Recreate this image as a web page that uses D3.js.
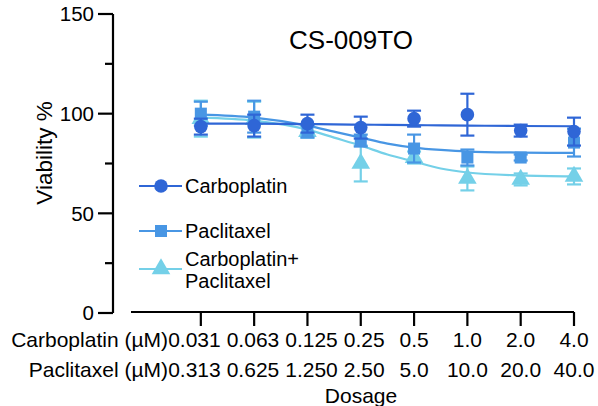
<html>
<script src="https://d3js.org/d3.v7.min.js"></script>
<body style="margin:0">
<svg width=598 height=406></svg>
<script>
// dose categories (two drugs on the same x position)
const carboDose = ["0.031", "0.063", "0.125", "0.25", "0.5", "1.0", "2.0", "4.0"];
const pacliDose = ["0.313", "0.625", "1.250", "2.50", "5.0", "10.0", "20.0", "40.0"];

// mean viability and SD per dose
const carboMean = [93.5, 94, 95, 93, 97.5, 99.5, 91.5, 91];
const carboSd   = [4, 5.5, 4.5, 5.5, 4, 10.5, 3, 7];
const pacliMean = [100, 98.5, 91, 86.5, 82.5, 78, 78, 85.5];
const pacliSd   = [6, 8, 3, 3, 7, 4, 1.5, 7];
const comboMean = [97.5, 97, 91, 75, 78, 67.5, 67, 68.5];
const comboSd   = [9, 9, 3, 9, 3, 6, 3, 4];

// fitted curves at these dose positions
const fitPos   = [0, 1, 2, 2.5, 3, 3.5, 4, 4.5, 5, 6, 7];
const carboFit = [95, 95, 94.8, 94.6, 94.5, 94.4, 94.3, 94.1, 94, 93.8, 93.7];
const pacliFit = [99.5, 98, 94, 91, 88, 85, 83, 81.8, 81, 80.5, 80.3];
const comboFit = [98, 96.5, 92, 88, 84, 79.5, 76, 72.5, 70.5, 69, 68.5];

const yTicks = [0, 50, 100, 150];
const yMinor = [25, 75, 125];

const series = [
  {name: "Carboplatin+\nPaclitaxel", mean: comboMean, sd: comboSd, fit: comboFit, color: "#74d0e8", shape: d3.symbolTriangle},
  {name: "Paclitaxel", mean: pacliMean, sd: pacliSd, fit: pacliFit, color: "#4896e4", shape: d3.symbolSquare},
  {name: "Carboplatin", mean: carboMean, sd: carboSd, fit: carboFit, color: "#2f66d6", shape: d3.symbolCircle}
];

const font = "Arial, 'Liberation Sans', sans-serif";
const svg = d3.select("svg").style("font-family", font);

const x = d3.scaleLinear().domain([-1.31, 7]).range([131, 574]);
const y = d3.scaleLinear().domain([0, 150]).range([313, 14]);

// y axis
const yg = svg.append("g").attr("transform", "translate(113,0)");
yg.append("line").attr("y1", y(0)).attr("y2", y(150)).attr("stroke", "#000").attr("stroke-width", 2.2);
yg.selectAll(".maj").data(yTicks).enter().append("line")
  .attr("x1", -15).attr("x2", 0).attr("y1", d => y(d)).attr("y2", d => y(d))
  .attr("stroke", "#000").attr("stroke-width", 2.2);
yg.selectAll(".mnr").data(yMinor).enter().append("line")
  .attr("x1", -8).attr("x2", 0).attr("y1", d => y(d)).attr("y2", d => y(d))
  .attr("stroke", "#000").attr("stroke-width", 2.2);
yg.selectAll(".lab").data(yTicks).enter().append("text")
  .attr("x", -19).attr("y", d => y(d)).attr("dy", "0.36em")
  .attr("text-anchor", "end").style("font-size", "20.5px").text(d => d);
svg.append("text")
  .attr("transform", "translate(44,153) rotate(-90)")
  .attr("text-anchor", "middle").attr("dy", "0.35em")
  .style("font-size", "22.5px").text("Viability %");

// x axis
const xg = svg.append("g").attr("transform", "translate(0,312)");
xg.append("line").attr("x1", x(-1.31)).attr("x2", x(7)).attr("stroke", "#000").attr("stroke-width", 2.2);
xg.selectAll(".tk").data(carboDose).enter().append("line")
  .attr("x1", (d, i) => x(i)).attr("x2", (d, i) => x(i)).attr("y1", 0).attr("y2", 14)
  .attr("stroke", "#000").attr("stroke-width", 2.2);
const row1 = xg.selectAll(".c").data(carboDose).enter().append("text")
  .attr("x", (d, i) => x(i)).attr("y", 35).attr("text-anchor", "middle")
  .style("font-size", "21px").text(d => d);
const row2 = xg.selectAll(".p").data(pacliDose).enter().append("text")
  .attr("x", (d, i) => x(i)).attr("y", 65).attr("text-anchor", "middle")
  .style("font-size", "21px").text(d => d);

// nudge crowded dose labels apart, like the original does
const w = carboDose.map((d, i) => Math.max(row1.nodes()[i].getComputedTextLength(), row2.nodes()[i].getComputedTextLength()));
const pos = carboDose.map((d, i) => x(i));
for (let it = 0; it < 200; it++) {
  for (let i = 0; i < pos.length - 1; i++) {
    const need = (w[i] + w[i + 1]) / 2 + 6 - (pos[i + 1] - pos[i]);
    if (need > 0) { pos[i] -= need / 2; pos[i + 1] += need / 2; }
  }
}
row1.attr("x", (d, i) => pos[i]);
row2.attr("x", (d, i) => pos[i]);

xg.append("text").attr("x", 168).attr("y", 35).attr("text-anchor", "end")
  .style("font-size", "21px").text("Carboplatin (\u00b5M)");
xg.append("text").attr("x", 168).attr("y", 65).attr("text-anchor", "end")
  .style("font-size", "21px").text("Paclitaxel (\u00b5M)");
xg.append("text").attr("x", 361).attr("y", 91).attr("text-anchor", "middle")
  .style("font-size", "21px").text("Dosage");

// title
svg.append("text").attr("x", 351).attr("y", 49).attr("text-anchor", "middle")
  .style("font-size", "26px").text("CS-009TO");

// series
const line = d3.line().x(d => x(d[0])).y(d => y(d[1])).curve(d3.curveMonotoneX);
series.forEach(s => {
  const g = svg.append("g");
  g.append("path").datum(fitPos.map((p, i) => [p, s.fit[i]]))
    .attr("d", line).attr("fill", "none").attr("stroke", s.color).attr("stroke-width", 2.2);
  const eb = g.selectAll(".eb").data(s.mean).enter().append("g");
  eb.append("line").attr("x1", (d, i) => x(i)).attr("x2", (d, i) => x(i))
    .attr("y1", (d, i) => y(d - s.sd[i])).attr("y2", (d, i) => y(d + s.sd[i]))
    .attr("stroke", s.color).attr("stroke-width", 2.2);
  [-1, 1].forEach(sg => {
    eb.append("line").attr("x1", (d, i) => x(i) - 7).attr("x2", (d, i) => x(i) + 7)
      .attr("y1", (d, i) => y(d + sg * s.sd[i])).attr("y2", (d, i) => y(d + sg * s.sd[i]))
      .attr("stroke", s.color).attr("stroke-width", 2.2);
  });
  g.selectAll(".pt").data(s.mean).enter().append("path")
    .attr("d", d3.symbol().type(s.shape).size(s.shape === d3.symbolTriangle ? 150 : 145))
    .attr("transform", (d, i) => `translate(${x(i)},${y(d)})`)
    .attr("fill", s.color);
});

// legend
const legY = [186, 231, 269];
const legend = series.slice().reverse();
legend.forEach((s, k) => {
  const g = svg.append("g").attr("transform", `translate(139,${legY[k]})`);
  g.append("line").attr("x1", 0).attr("x2", 43).attr("stroke", s.color).attr("stroke-width", 2.2);
  g.append("path").attr("d", d3.symbol().type(s.shape).size(s.shape === d3.symbolTriangle ? 150 : 145)())
    .attr("transform", "translate(22,0)").attr("fill", s.color);
  const lines = s.name.split("\n");
  lines.forEach((l, j) => {
    g.append("text").attr("x", 46)
      .attr("y", lines.length === 1 ? 0 : (j === 0 ? -10.5 : 11.5))
      .attr("dy", "0.35em").style("font-size", "20px").text(l);
  });
});
</script>
</body>
</html>
